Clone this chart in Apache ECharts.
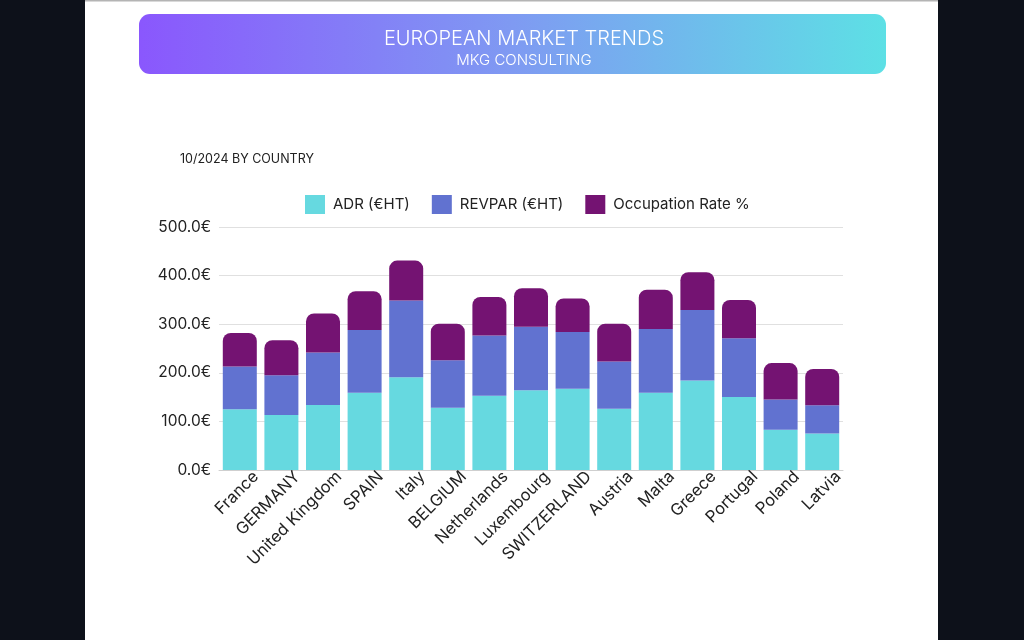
<!DOCTYPE html>
<html>
<head>
<meta charset="utf-8">
<script src="https://cdn.jsdelivr.net/npm/echarts@6/dist/echarts.min.js"></script>
<style>
html,body{margin:0;padding:0;background:#0d111a;}
#chart{width:1024px;height:640px;}
</style>
</head>
<body>
<div id="chart"></div>
<script>
var categories = ['France','GERMANY','United Kingdom','SPAIN','Italy','BELGIUM','Netherlands','Luxembourg','SWITZERLAND','Austria','Malta','Greece','Portugal','Poland','Latvia'];
var adr = [125, 113, 134, 159, 191, 128, 153, 164, 167, 126, 159, 184, 150, 83, 75];
var revpar = [88, 82, 108, 129, 158, 98, 124, 131, 117, 97, 131, 145, 121, 62, 58];
var occupation = [69, 72, 80, 80, 82, 75, 79, 79, 69, 78, 81, 78, 79, 75, 75];
var seriesNames = ['ADR (€HT)', 'REVPAR (€HT)', 'Occupation Rate %'];
var yTicks = [0, 100, 200, 300, 400, 500];
var mainTitle = 'EUROPEAN MARKET TRENDS';
var subTitle = 'MKG CONSULTING';
var chartLabel = '10/2024 BY COUNTRY';

var FONT = 'Inter, "Noto Sans", sans-serif';
var chart = echarts.init(document.getElementById('chart'), null, {renderer: 'canvas'});
var GL = 219, GR = 181, GT = 227, GB = 170;
var DX = 16, DY = 4;

chart.setOption({
  animation: false,
  textStyle: {fontFamily: FONT},
  graphic: [
    {type: 'rect', z: -10, shape: {x: 85, y: 0, width: 853, height: 640}, style: {fill: '#ffffff'}},
    {type: 'rect', z: -9, shape: {x: 85, y: 0, width: 853, height: 1.5}, style: {fill: '#b4b4b4'}},
    {type: 'rect', z: -8, shape: {x: 139, y: 14, width: 747, height: 60, r: 11},
      style: {fill: new echarts.graphic.LinearGradient(0, 0, 1, 0, [
        {offset: 0, color: '#8a57fd'}, {offset: 0.5, color: '#7f9af2'}, {offset: 1, color: '#5de0e5'}])}},
    {type: 'text', z: 10, x: 524, y: 39,
      style: {text: mainTitle, fill: '#ffffff', align: 'center', verticalAlign: 'middle',
        font: '300 20px ' + FONT}},
    {type: 'text', z: 10, x: 524, y: 60,
      style: {text: subTitle, fill: '#ffffff', align: 'center', verticalAlign: 'middle',
        font: '300 15px ' + FONT}}
  ],
  title: [
    {text: chartLabel, left: 180, top: 153, padding: 0,
      textStyle: {color: '#222222', fontSize: 12.5, fontWeight: 'normal', fontFamily: FONT}}
  ],
  legend: {
    left: 305, top: 195, padding: 0,
    itemWidth: 20, itemHeight: 19, itemGap: 22, icon: 'rect',
    textStyle: {color: '#222222', fontSize: 15, fontFamily: FONT, padding: [0, 0, 0, 3]},
    data: seriesNames
  },
  grid: [
    {left: GL, right: GR, top: GT, bottom: GB},
    {left: GL + DX, right: GR - DX, top: GT, bottom: GB + DY}
  ],
  xAxis: [
    {type: 'category', gridIndex: 0, data: categories,
      axisLine: {lineStyle: {color: '#cfcfcf'}}, axisTick: {show: false}, axisLabel: {show: false}},
    {type: 'category', gridIndex: 1, data: categories,
      axisLine: {show: false}, axisTick: {show: false},
      axisLabel: {rotate: 45, interval: 0, margin: 8, color: '#222222', fontSize: 16.5, fontFamily: FONT}}
  ],
  yAxis: [
    {type: 'value', gridIndex: 0, min: yTicks[0], max: yTicks[yTicks.length - 1], interval: 100,
      axisLine: {show: false}, axisTick: {show: false},
      splitLine: {lineStyle: {color: '#e0e0e0'}},
      axisLabel: {color: '#222222', fontSize: 15.5, margin: 8, fontFamily: FONT,
        formatter: function (v) { return v.toFixed(1) + '€'; }}},
    {type: 'value', gridIndex: 1, show: false, min: 0, max: 500}
  ],
  series: [
    {name: seriesNames[0], type: 'bar', stack: 'all', data: adr, barWidth: 34,
      itemStyle: {color: '#66d9e0'}},
    {name: seriesNames[1], type: 'bar', stack: 'all', data: revpar, barWidth: 34,
      itemStyle: {color: '#6172d0'}},
    {name: seriesNames[2], type: 'bar', stack: 'all', data: occupation, barWidth: 34,
      itemStyle: {color: '#741372', borderRadius: [8, 8, 0, 0]}}
  ]
});
</script>
</body>
</html>
